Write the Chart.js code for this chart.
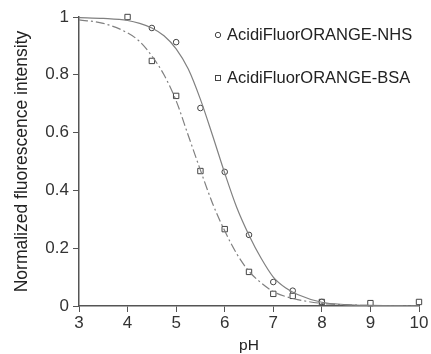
<!DOCTYPE html>
<html>
<head>
<meta charset="utf-8">
<script src="https://cdn.jsdelivr.net/npm/chart.js@4"></script>
<style>
  html, body { margin: 0; padding: 0; background: #fff; }
  #wrap { width: 431px; height: 354px; }
</style>
</head>
<body>
<div id="wrap"><canvas id="phChart"></canvas></div>
<script>
// measured points
const phNHS = [4.5, 5, 5.5, 6, 6.5, 7, 7.4, 8];
const valNHS = [0.962, 0.913, 0.685, 0.464, 0.246, 0.083, 0.053, 0.014];
const phBSA = [4, 4.5, 5, 5.5, 6, 6.5, 7, 7.4, 8, 9, 10];
const valBSA = [1.0, 0.848, 0.727, 0.467, 0.266, 0.118, 0.042, 0.035, 0.014, 0.01, 0.014];

// fitted curves
const fitPh  = [3, 3.5, 4, 4.25, 4.5, 4.75, 5, 5.25, 5.5, 5.75, 6, 6.25, 6.5, 6.75, 7, 7.25, 7.5, 8, 8.5, 9, 10];
const fitNHS = [0.998, 0.995, 0.988, 0.978, 0.962, 0.935, 0.89, 0.82, 0.715, 0.59, 0.46, 0.34, 0.245, 0.165, 0.10, 0.063, 0.04, 0.013, 0.005, 0.002, 0.0];
const fitBSA = [0.99, 0.978, 0.945, 0.915, 0.865, 0.80, 0.71, 0.59, 0.47, 0.355, 0.26, 0.18, 0.12, 0.08, 0.05, 0.033, 0.022, 0.009, 0.004, 0.002, 0.0];

const legendNames = ["AcidiFluorORANGE-NHS", "AcidiFluorORANGE-BSA"];
const yTicks = [0, 0.2, 0.4, 0.6, 0.8, 1];

const pts = (xs, ys) => xs.map((x, i) => ({ x: x, y: ys[i] }));
const FONT = '"Liberation Sans", Arial, sans-serif';

// legend drawn inside the plot
const legendInside = {
  id: 'legendInside',
  afterDraw(chart) {
    const ctx = chart.ctx;
    ctx.save();
    ctx.font = '16.5px ' + FONT;
    ctx.fillStyle = '#222';
    ctx.textBaseline = 'middle';
    ctx.strokeStyle = '#444';
    ctx.lineWidth = 1;
    ctx.beginPath();
    ctx.arc(218, 35, 2.7, 0, Math.PI * 2);
    ctx.stroke();
    ctx.fillText(legendNames[0], 227, 35);
    ctx.strokeRect(215.5, 75.5, 5, 5);
    ctx.fillText(legendNames[1], 227, 78);
    ctx.restore();
  }
};

new Chart(document.getElementById('phChart'), {
  type: 'scatter',
  data: {
    datasets: [
      {
        label: 'fit NHS',
        data: pts(fitPh, fitNHS),
        showLine: true,
        borderColor: '#808080',
        borderWidth: 1.2,
        pointRadius: 0,
        cubicInterpolationMode: 'monotone'
      },
      {
        label: 'fit BSA',
        data: pts(fitPh, fitBSA),
        showLine: true,
        borderColor: '#808080',
        borderWidth: 1.2,
        borderDash: [9, 3, 2, 3],
        pointRadius: 0,
        cubicInterpolationMode: 'monotone'
      },
      {
        label: legendNames[0],
        data: pts(phNHS, valNHS),
        pointStyle: 'circle',
        pointRadius: 2.8,
        borderColor: '#444',
        backgroundColor: '#fff',
        borderWidth: 1,
        clip: false
      },
      {
        label: legendNames[1],
        data: pts(phBSA, valBSA),
        pointStyle: 'rect',
        pointRadius: 3.8,
        borderColor: '#444',
        backgroundColor: '#fff',
        borderWidth: 1,
        clip: false
      }
    ]
  },
  options: {
    responsive: true,
    maintainAspectRatio: false,
    animation: false,
    layout: { padding: { top: 17, right: 12, left: 0, bottom: 0 } },
    plugins: {
      legend: { display: false },
      tooltip: { enabled: false }
    },
    scales: {
      x: {
        min: 3, max: 10,
        afterFit: s => { s.height = 48; },
        ticks: { stepSize: 1, color: '#333', font: { size: 17, family: FONT }, padding: 1 },
        grid: { drawOnChartArea: false, tickLength: 6, color: '#555' },
        border: { color: '#555', width: 1.5 },
        title: { display: true, text: 'pH', color: '#222', font: { size: 15.5, family: FONT }, padding: { top: 0, bottom: -1 } }
      },
      y: {
        min: 0, max: 1,
        afterFit: s => { s.width = 79; },
        afterBuildTicks: s => { s.ticks = yTicks.map(v => ({ value: v })); },
        ticks: {
          color: '#333', font: { size: 17, family: FONT }, padding: 4,
          callback: v => String(Math.round(v * 10) / 10)
        },
        grid: { drawOnChartArea: false, tickLength: 6, color: '#555' },
        border: { color: '#555', width: 1.5 },
        title: { display: true, text: 'Normalized fluorescence intensity', color: '#222', font: { size: 17.5, family: FONT }, padding: { top: 12, bottom: 0 } }
      }
    }
  },
  plugins: [legendInside]
});
</script>
</body>
</html>
